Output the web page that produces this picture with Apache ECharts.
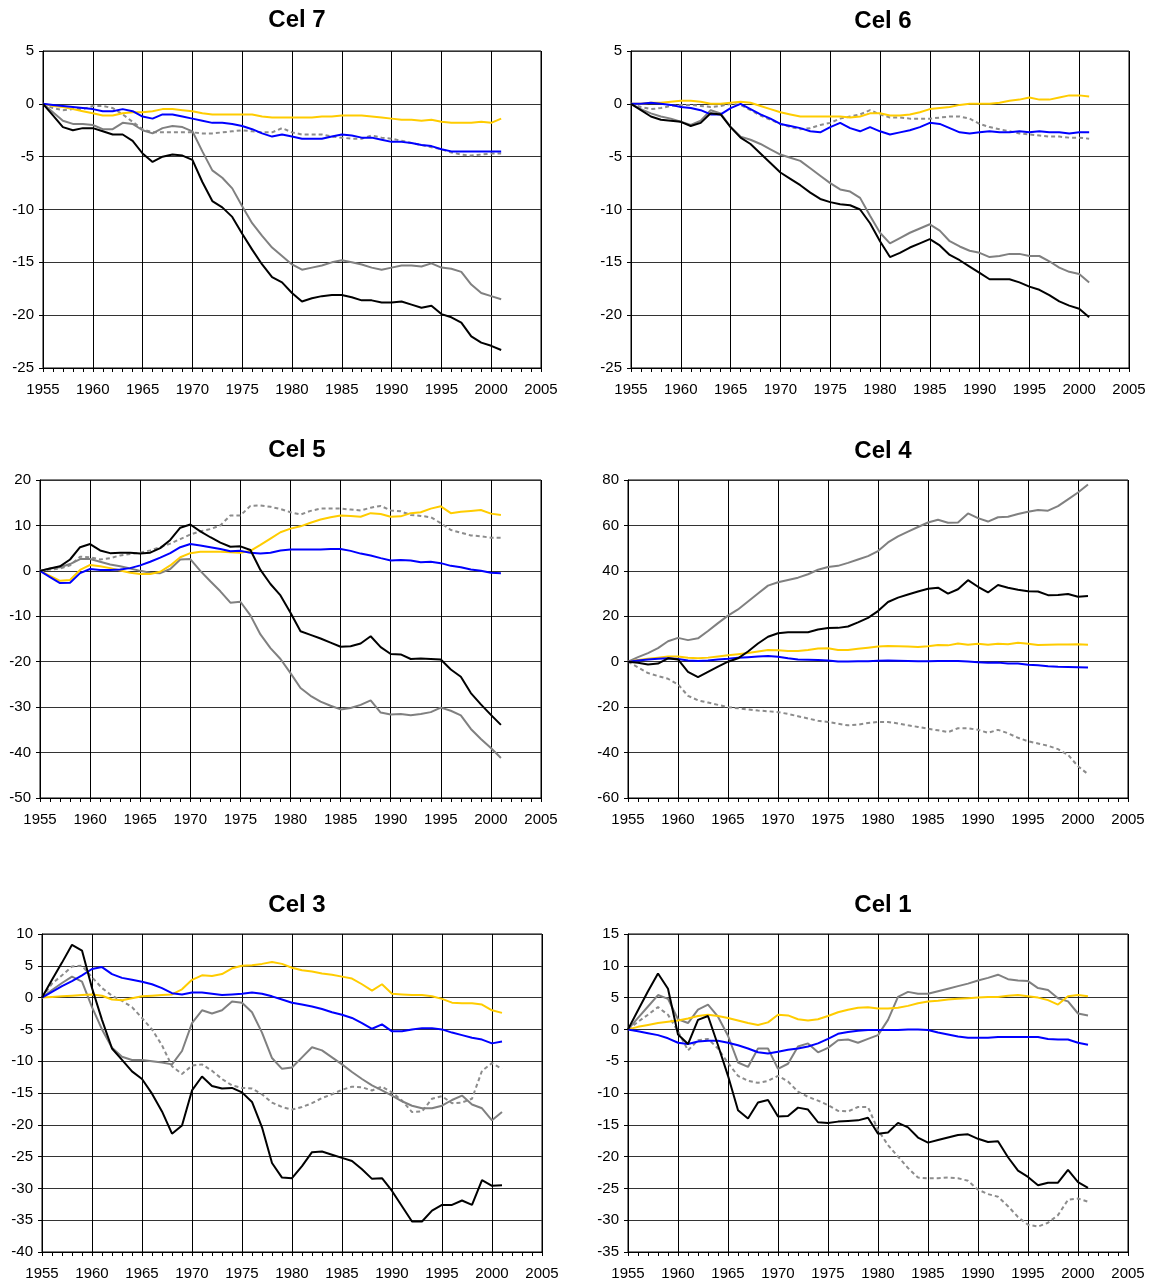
<!DOCTYPE html>
<html><head><meta charset="utf-8">
<script src="https://cdn.jsdelivr.net/npm/echarts/dist/echarts.min.js"></script>
<style>html,body{margin:0;padding:0;background:#fff}#c{width:1152px;height:1281px}</style>
</head><body><div id="c"></div><script>
const years = [1955,1956,1957,1958,1959,1960,1961,1962,1963,1964,1965,1966,1967,1968,1969,1970,1971,1972,1973,1974,1975,1976,1977,1978,1979,1980,1981,1982,1983,1984,1985,1986,1987,1988,1989,1990,1991,1992,1993,1994,1995,1996,1997,1998,1999,2000,2001];
const titles = ['Cel 7','Cel 6','Cel 5','Cel 4','Cel 3','Cel 1'];

// Cel 7
const cel7_black = [0,-1.1,-2.2,-2.5,-2.3,-2.3,-2.6,-2.9,-2.9,-3.5,-4.7,-5.5,-5.0,-4.8,-4.9,-5.3,-7.4,-9.2,-9.8,-10.7,-12.3,-13.8,-15.2,-16.4,-16.9,-17.9,-18.7,-18.4,-18.2,-18.1,-18.1,-18.3,-18.6,-18.6,-18.8,-18.8,-18.7,-19.0,-19.3,-19.1,-19.9,-20.2,-20.7,-22.0,-22.6,-22.9,-23.3];
const cel7_gray = [0,-0.8,-1.6,-1.9,-1.9,-2.0,-2.4,-2.4,-1.8,-1.9,-2.5,-2.8,-2.3,-2.1,-2.2,-2.6,-4.5,-6.3,-7.0,-8.0,-9.7,-11.3,-12.5,-13.6,-14.4,-15.2,-15.7,-15.5,-15.3,-15.0,-14.8,-15.0,-15.2,-15.5,-15.7,-15.5,-15.3,-15.3,-15.4,-15.1,-15.5,-15.6,-15.9,-17.1,-17.9,-18.2,-18.5];
const cel7_dash = [0,-0.4,-0.6,-0.5,-0.5,-0.2,-0.2,-0.4,-1.0,-1.7,-2.4,-2.7,-2.7,-2.7,-2.7,-2.7,-2.8,-2.8,-2.7,-2.6,-2.5,-2.6,-2.7,-2.7,-2.3,-2.7,-2.9,-2.9,-2.9,-3.1,-3.2,-3.3,-3.3,-3.0,-3.2,-3.3,-3.5,-3.7,-3.9,-4.1,-4.3,-4.6,-4.8,-4.9,-4.8,-4.7,-4.7];
const cel7_blue = [0,-0.1,-0.2,-0.3,-0.4,-0.5,-0.7,-0.7,-0.5,-0.7,-1.2,-1.4,-1.0,-1.0,-1.2,-1.4,-1.6,-1.8,-1.8,-1.9,-2.1,-2.4,-2.8,-3.1,-2.9,-3.1,-3.3,-3.3,-3.3,-3.1,-2.9,-3.0,-3.2,-3.2,-3.4,-3.6,-3.6,-3.7,-3.9,-4.0,-4.3,-4.5,-4.5,-4.5,-4.5,-4.5,-4.5];
const cel7_yellow = [0,-0.2,-0.3,-0.5,-0.7,-0.9,-1.1,-1.1,-0.9,-0.8,-0.8,-0.7,-0.5,-0.5,-0.6,-0.7,-0.9,-1.0,-1.0,-1.0,-1.0,-1.0,-1.2,-1.3,-1.3,-1.3,-1.3,-1.3,-1.2,-1.2,-1.1,-1.1,-1.1,-1.2,-1.3,-1.4,-1.5,-1.5,-1.6,-1.5,-1.7,-1.8,-1.8,-1.8,-1.7,-1.8,-1.4];

// Cel 6
const cel6_black = [0,-0.6,-1.2,-1.5,-1.6,-1.7,-2.1,-1.8,-0.9,-1.0,-2.2,-3.2,-3.8,-4.7,-5.6,-6.5,-7.1,-7.7,-8.4,-9.0,-9.3,-9.5,-9.6,-10.0,-11.3,-13.0,-14.5,-14.1,-13.6,-13.2,-12.8,-13.4,-14.3,-14.8,-15.4,-16.0,-16.6,-16.6,-16.6,-16.9,-17.3,-17.6,-18.1,-18.7,-19.1,-19.4,-20.2];
const cel6_gray = [0,-0.5,-0.9,-1.2,-1.4,-1.7,-2.0,-1.6,-0.6,-0.9,-2.2,-3.1,-3.4,-3.8,-4.3,-4.8,-5.1,-5.4,-6.1,-6.8,-7.5,-8.1,-8.3,-8.9,-10.6,-12.2,-13.2,-12.7,-12.2,-11.8,-11.4,-12.0,-13.0,-13.5,-13.9,-14.1,-14.5,-14.4,-14.2,-14.2,-14.4,-14.4,-14.9,-15.5,-15.9,-16.1,-16.9];
const cel6_dash = [0,-0.3,-0.5,-0.4,-0.2,-0.1,-0.1,-0.2,-0.3,-0.2,0.0,-0.1,-0.6,-1.1,-1.5,-1.9,-2.2,-2.4,-2.3,-2.0,-1.8,-1.4,-1.2,-1.0,-0.6,-1.0,-1.3,-1.3,-1.4,-1.4,-1.4,-1.3,-1.2,-1.2,-1.4,-1.9,-2.2,-2.4,-2.6,-2.8,-2.9,-3.0,-3.1,-3.1,-3.2,-3.2,-3.3];
const cel6_blue = [0,0.0,0.1,0.0,-0.1,-0.3,-0.4,-0.6,-1.0,-1.0,-0.4,0.0,-0.5,-1.0,-1.4,-1.9,-2.1,-2.3,-2.6,-2.7,-2.2,-1.8,-2.3,-2.6,-2.2,-2.6,-2.9,-2.7,-2.5,-2.2,-1.8,-1.9,-2.3,-2.7,-2.8,-2.7,-2.6,-2.7,-2.7,-2.6,-2.7,-2.6,-2.7,-2.7,-2.8,-2.7,-2.7];
const cel6_yellow = [0,0.0,0.1,0.1,0.2,0.3,0.3,0.2,0.0,0.0,0.1,0.2,0.1,-0.2,-0.5,-0.8,-1.0,-1.2,-1.2,-1.2,-1.2,-1.2,-1.3,-1.2,-0.9,-0.9,-1.1,-1.1,-1.0,-0.8,-0.5,-0.4,-0.3,-0.1,0.0,0.0,0.0,0.1,0.3,0.4,0.6,0.4,0.4,0.6,0.8,0.8,0.7];

// Cel 5
const cel5_black = [0,0.5,1.0,2.5,5.2,5.9,4.5,3.9,4.0,4.0,3.8,4.0,5.0,6.8,9.5,10.2,8.7,7.4,6.2,5.3,5.4,4.6,0.2,-2.9,-5.4,-9.2,-13.3,-14.1,-14.9,-15.8,-16.7,-16.6,-16.0,-14.4,-16.8,-18.3,-18.4,-19.4,-19.3,-19.4,-19.5,-21.7,-23.3,-26.9,-29.4,-31.7,-33.9];
const cel5_gray = [0,0.5,0.8,1.5,2.6,2.6,2.0,1.4,1.0,0.5,0.0,-0.4,-0.5,0.4,2.5,2.6,0.0,-2.3,-4.5,-7.0,-6.8,-9.8,-14.0,-17.0,-19.4,-22.5,-25.8,-27.5,-28.8,-29.7,-30.5,-30.2,-29.5,-28.5,-31.2,-31.6,-31.5,-31.8,-31.5,-31.1,-30.1,-30.8,-31.8,-34.8,-37.0,-39.0,-41.2];
const cel5_dash = [0,0.3,0.5,1.2,3.1,3.0,2.5,2.8,3.4,3.7,4.0,4.5,5.2,6.0,7.0,8.0,8.7,9.2,10.0,12.2,12.2,14.3,14.4,14.1,13.6,12.9,12.4,13.2,13.7,13.7,13.7,13.5,13.3,13.9,14.3,13.3,13.1,12.3,12.1,11.8,10.5,9.0,8.4,7.8,7.6,7.3,7.3];
const cel5_blue = [0,-1.4,-2.7,-2.6,-0.5,0.4,0.2,0.2,0.3,0.6,1.2,2.0,2.9,3.9,5.2,5.9,5.6,5.2,4.8,4.3,4.4,4.0,3.8,4.0,4.5,4.7,4.7,4.7,4.7,4.8,4.8,4.4,3.8,3.4,2.8,2.3,2.4,2.3,1.9,2.0,1.7,1.1,0.8,0.3,0.0,-0.4,-0.5];
const cel5_yellow = [0,-1.1,-2.2,-2.0,0.2,1.3,1.0,0.6,0.1,-0.4,-0.7,-0.7,-0.2,1.2,3.0,3.9,4.2,4.2,4.2,4.1,4.0,4.4,5.7,7.1,8.5,9.3,9.8,10.6,11.3,11.8,12.2,12.1,11.9,12.7,12.5,11.9,12.0,12.7,12.9,13.7,14.2,12.7,13.0,13.2,13.4,12.6,12.3];

// Cel 4
const cel4_black = [0,-0.5,-1.2,-0.8,1.5,1.0,-4.5,-6.8,-4.5,-2.2,0,1.5,4.5,8,11,12.5,13,13,13,14.2,14.8,14.9,15.5,17.3,19.3,22.3,26.3,28.2,29.6,30.9,32.1,32.6,30,31.9,35.9,33,30.5,33.8,32.6,31.7,31,30.9,29.3,29.4,29.8,28.6,28.9];
const cel4_gray = [0,2,3.8,6,9,10.5,9.5,10.3,13.5,17,20.3,23,26.5,30,33.5,35,36,37,38.5,40.5,41.7,42.2,43.5,45,46.5,48.7,52.5,55.2,57.3,59.3,61.3,62.5,61.2,61.3,65.3,63.2,61.7,63.6,63.8,65,66,66.8,66.5,68.5,71.5,74.5,78];
const cel4_dash = [0,-2.5,-5,-6.3,-7.5,-10,-15,-17,-18,-19,-20,-20.5,-21,-21.5,-21.8,-22.2,-23,-24,-25,-26,-26.5,-27.3,-28,-27.7,-27,-26.5,-26.5,-27.2,-28,-28.7,-29.5,-30.2,-31,-29.3,-29.3,-30,-31.3,-30,-31.5,-33.5,-35,-36,-37,-38.5,-41,-46,-49.5];
const cel4_blue = [0,0.5,1.0,1.3,1.5,1.2,0.5,0.3,0.5,1.0,1.3,1.7,2.0,2.3,2.5,2.2,1.5,1.0,0.9,0.8,0.5,0.1,0.1,0.2,0.2,0.4,0.5,0.4,0.3,0.2,0.2,0.3,0.3,0.3,0.1,-0.2,-0.5,-0.4,-0.8,-0.8,-1.3,-1.6,-2.0,-2.2,-2.3,-2.4,-2.5];
const cel4_yellow = [0,0.8,1.3,1.8,2.3,2.3,1.7,1.5,1.8,2.3,2.8,3.3,3.8,4.5,5.2,5.0,4.7,4.7,5.2,5.8,5.9,5.2,5.2,5.7,6.2,6.7,6.9,6.8,6.7,6.5,6.8,7.4,7.2,8.0,7.5,7.9,7.5,7.9,7.7,8.3,7.9,7.4,7.5,7.6,7.6,7.7,7.5];

// Cel 3
const cel3_black = [0,2.8,5.5,8.3,7.4,1.5,-3.5,-8.0,-9.8,-11.6,-12.8,-15.1,-17.9,-21.4,-20.1,-14.6,-12.4,-13.9,-14.3,-14.2,-14.9,-16.4,-20.4,-26.0,-28.3,-28.4,-26.5,-24.3,-24.2,-24.7,-25.2,-25.7,-27.0,-28.5,-28.4,-30.4,-32.8,-35.2,-35.2,-33.5,-32.6,-32.6,-31.9,-32.6,-28.7,-29.6,-29.5];
const cel3_gray = [0,1.2,2.3,3.3,2.5,-1.5,-5.0,-7.9,-9.3,-9.8,-9.8,-10.0,-10.2,-10.5,-8.4,-4.0,-2.0,-2.5,-2.0,-0.6,-0.8,-2.3,-5.5,-9.5,-11.2,-11.0,-9.4,-7.8,-8.3,-9.4,-10.5,-11.7,-12.8,-13.8,-14.6,-15.4,-16.3,-17.0,-17.4,-17.4,-17.0,-16.1,-15.4,-16.8,-17.4,-19.3,-18.0];
const cel3_dash = [0,2.2,3.5,4.9,5.0,3.2,1.5,0.3,-0.5,-1.5,-3.2,-5.0,-7.5,-10.8,-12.0,-10.7,-10.5,-11.5,-12.8,-13.8,-14.2,-14.3,-15.2,-16.5,-17.2,-17.6,-17.2,-16.6,-15.8,-15.2,-14.5,-14.0,-14.1,-14.6,-14.0,-14.9,-16.2,-18.0,-17.9,-15.9,-15.5,-16.6,-16.5,-15.9,-11.5,-10.3,-11.2];
const cel3_blue = [0,0.9,1.8,2.6,3.5,4.5,4.8,3.7,3.1,2.8,2.5,2.1,1.5,0.7,0.5,0.8,0.8,0.6,0.4,0.5,0.6,0.8,0.6,0.2,-0.3,-0.8,-1.1,-1.4,-1.8,-2.3,-2.7,-3.2,-4.0,-4.9,-4.2,-5.3,-5.3,-5.0,-4.8,-4.8,-5.0,-5.5,-5.9,-6.3,-6.6,-7.2,-6.9];
const cel3_yellow = [0,0.1,0.2,0.3,0.4,0.5,0.3,-0.3,-0.4,-0.1,0.2,0.3,0.4,0.5,1.3,2.8,3.5,3.4,3.7,4.6,5.0,5.1,5.3,5.6,5.3,4.7,4.3,4.1,3.8,3.6,3.3,3.0,2.1,1.1,2.1,0.6,0.5,0.4,0.4,0.2,-0.2,-0.8,-0.9,-0.9,-1.1,-2.0,-2.4];

// Cel 1
const cel1_black = [0,3,6,8.8,6.4,-0.8,-2.3,1.5,2.1,-2.5,-7.3,-12.7,-14.0,-11.5,-11.1,-13.7,-13.6,-12.3,-12.6,-14.6,-14.7,-14.5,-14.4,-14.3,-13.9,-16.4,-16.2,-14.7,-15.4,-17.0,-17.8,-17.4,-17.0,-16.6,-16.5,-17.2,-17.7,-17.6,-20.1,-22.2,-23.2,-24.5,-24.1,-24.1,-22.1,-24.0,-24.9];
const cel1_gray = [0,1.8,3.6,5.4,4.8,1.6,1.0,3.1,3.9,2.0,-1.0,-5.2,-5.9,-3.0,-3.0,-6.2,-5.4,-2.7,-2.2,-3.6,-2.9,-1.7,-1.6,-2.1,-1.5,-0.9,1.5,5.1,5.9,5.6,5.6,6.0,6.4,6.8,7.2,7.7,8.1,8.6,7.9,7.7,7.6,6.5,6.2,4.9,4.4,2.5,2.2];
const cel1_dash = [0,1.2,2.3,3.5,2.3,-0.3,-3.3,-1.7,-1.5,-3.0,-5.3,-7.3,-8.1,-8.4,-8.1,-7.3,-8.2,-9.8,-10.6,-11.2,-11.9,-12.8,-12.9,-12.2,-12.2,-15.8,-18.2,-20.0,-21.8,-23.3,-23.4,-23.4,-23.3,-23.4,-23.8,-25.2,-25.9,-26.3,-27.8,-29.5,-30.7,-31.0,-30.4,-29.2,-26.8,-26.6,-27.1];
const cel1_blue = [0,-0.3,-0.6,-0.9,-1.4,-2.1,-2.3,-1.9,-1.8,-1.8,-2.1,-2.5,-3.0,-3.6,-3.8,-3.5,-3.2,-3.0,-2.7,-2.2,-1.5,-0.7,-0.4,-0.2,-0.1,-0.1,-0.1,-0.1,0.0,0.0,-0.1,-0.5,-0.8,-1.1,-1.3,-1.3,-1.3,-1.2,-1.2,-1.2,-1.2,-1.2,-1.5,-1.6,-1.6,-2.1,-2.4];
const cel1_yellow = [0,0.4,0.7,1.0,1.2,1.4,1.7,2.1,2.3,2.1,1.8,1.4,1.0,0.7,1.1,2.3,2.2,1.6,1.4,1.6,2.1,2.7,3.1,3.4,3.5,3.3,3.3,3.4,3.7,4.1,4.4,4.5,4.7,4.8,4.9,5.0,5.1,5.1,5.3,5.4,5.2,5.0,4.6,3.9,5.2,5.4,5.2];

const yMin = [-25,-25,-50,-60,-40,-35];
const yMax = [5,5,20,80,10,15];
const yStep = [5,5,10,20,5,5];

const panelSeries = [
  [cel7_dash, cel7_gray, cel7_yellow, cel7_blue, cel7_black],
  [cel6_dash, cel6_gray, cel6_yellow, cel6_blue, cel6_black],
  [cel5_dash, cel5_gray, cel5_yellow, cel5_blue, cel5_black],
  [cel4_dash, cel4_gray, cel4_yellow, cel4_blue, cel4_black],
  [cel3_dash, cel3_gray, cel3_yellow, cel3_blue, cel3_black],
  [cel1_dash, cel1_gray, cel1_yellow, cel1_blue, cel1_black]
];

// layout (pixels)
const grids = [
  {left:43, top:51, width:498, height:317},
  {left:631, top:51, width:498, height:317},
  {left:40, top:480, width:501, height:318},
  {left:628, top:480, width:500, height:318},
  {left:42, top:934, width:500, height:318},
  {left:628, top:934, width:500, height:319}
];
const titlePos = [[297,20],[883,21],[297,450],[883,451],[297,905],[883,905]];
const styles = [
  {color:'#8c8c8c', type:[4,3], width:2},
  {color:'#808080', type:'solid', width:2},
  {color:'#FFCC00', type:'solid', width:2},
  {color:'#0000FF', type:'solid', width:2},
  {color:'#000000', type:'solid', width:2}
];
const FONT = 'Liberation Sans, Arial, sans-serif';

const option = {
  animation:false,
  backgroundColor:'#fff',
  grid: grids.map(g => Object.assign({show:true, borderColor:'#000', borderWidth:1, containLabel:false}, g)),
  xAxis: grids.map((g,i) => ({
    type:'value', gridIndex:i, min:1955, max:2005, interval:5,
    axisLine:{show:true, onZero:false, lineStyle:{color:'#000', width:1}},
    axisTick:{show:true, inside:false, length:4, lineStyle:{color:'#000'}},
    minorTick:{show:true, splitNumber:5, length:4, lineStyle:{color:'#000'}},
    axisLabel:{color:'#000', fontSize:15, fontFamily:FONT, margin:14, showMaxLabel:true, showMinLabel:true,
      formatter: v => String(v)},
    splitLine:{show:true, lineStyle:{color:'#000', width:1}}
  })),
  yAxis: grids.map((g,i) => ({
    type:'value', gridIndex:i, min:yMin[i], max:yMax[i], interval:yStep[i],
    axisLine:{show:true, onZero:false, lineStyle:{color:'#000', width:1}},
    axisTick:{show:true, inside:false, length:4, lineStyle:{color:'#000'}},
    axisLabel:{color:'#000', fontSize:15, fontFamily:FONT, margin:9, formatter: v => String(v)},
    splitLine:{show:true, lineStyle:{color:'#333', width:1}}
  })),
  graphic: titles.map((t,i) => ({
    type:'text', x:titlePos[i][0], y:titlePos[i][1],
    style:{text:t, fill:'#000', font:'bold 24px ' + FONT, align:'center', verticalAlign:'middle'}
  })),
  series: []
};

panelSeries.forEach((arr, i) => {
  arr.forEach((vals, k) => {
    option.series.push({
      type:'line', xAxisIndex:i, yAxisIndex:i,
      data: years.map((y, j) => [y, vals[j]]),
      showSymbol:false, symbol:'none',
      lineStyle: styles[k],
      z: 2 + k
    });
  });
});

const chart = echarts.init(document.getElementById('c'), null, {renderer:'canvas'});
chart.setOption(option);
</script></body></html>
